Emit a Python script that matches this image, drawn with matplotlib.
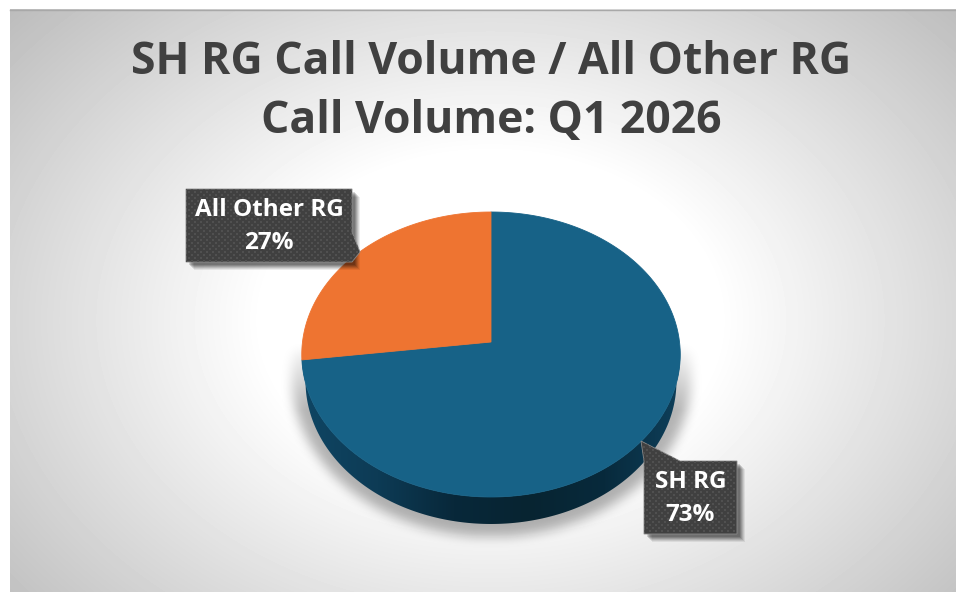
import numpy as np
import matplotlib
matplotlib.use("Agg")
import matplotlib.pyplot as plt
from matplotlib.patches import Polygon, Rectangle
from matplotlib.colors import LinearSegmentedColormap

# chart data
categories = ["SH RG", "All Other RG"]
shares = [73, 27]
slice_colors = ["#176287", "#EE7431"]
title_lines = ["SH RG Call Volume / All Other RG", "Call Volume: Q1 2026"]

W, H = 956, 592
plt.rcParams['font.family'] = ['Open Sans', 'DejaVu Sans']

fig = plt.figure(figsize=(W / 100, H / 100), dpi=100)
ax = fig.add_axes([0, 0, 1, 1])
ax.set_xlim(0, W)
ax.set_ylim(H, 0)
ax.axis('off')

yy, xx = np.mgrid[0:H, 0:W]

# radial background
r = np.hypot((xx - 490) / 600, (yy - 320) / 440)
grey = np.clip(255 - 68 * np.clip((r - 0.38) / 0.7, 0, 1.05), 0, 255) / 255
bg = ax.imshow(grey, cmap='gray', vmin=0, vmax=1, extent=(0, W, H, 0), aspect='auto', zorder=0)
bg.set_clip_path(Rectangle((10, 9), W, H, transform=ax.transData))
ax.plot([10, W], [9.5, 9.5], color="#a8a8a8", lw=1, zorder=1)

# pie geometry, slight perspective
cx, apex_y = 491, 342
A, B, k = 188.5, 141.4, 0.0877
depth = 27


def project(theta):
    # theta is clockwise from the top
    x, y = np.sin(theta), np.cos(theta)
    s = 1 / (1 + k * y)
    return cx + A * x * s, apex_y - B * y * s


# shadow under the pie
mask = np.zeros((H, W))
ny = (yy - 376) / 160
nx = (xx - 491) / 200
mask[(nx ** 2 + ny ** 2 <= 1) & (yy > 345)] = 1
for i in range(3):
    kernel = np.ones(11) / 11
    mask = np.apply_along_axis(lambda m: np.convolve(m, kernel, mode='same'), 0, mask)
    mask = np.apply_along_axis(lambda m: np.convolve(m, kernel, mode='same'), 1, mask)
mask = mask * np.clip((yy - 340) / 70, 0, 1)
shadow = np.zeros((H, W, 4))
shadow[..., 3] = mask * 0.30
ax.imshow(shadow, extent=(0, W, H, 0), aspect='auto', zorder=2)

# side of the pie, lower rim a little narrower
arc = np.linspace(np.pi / 2 + 0.02, 3 * np.pi / 2 - 0.02, 200)
arc_x, arc_y = project(arc)
low_x = cx + (arc_x - cx) * 0.98
side_xy = np.vstack([np.c_[arc_x, arc_y], np.c_[low_x[::-1], arc_y[::-1] + depth]])
side_cmap = LinearSegmentedColormap.from_list(
    "side", ["#0F4563", "#0D3B55", "#08283A", "#072431", "#082A3C", "#0E3F5A"])
side_grad = np.linspace(0, 1, 380).reshape(1, -1)
side = ax.imshow(side_grad, cmap=side_cmap, extent=(302, 681, H, 300), aspect='auto', zorder=3)
side.set_clip_path(Polygon(side_xy, transform=ax.transData))

# top faces
start = 0.0
for share, color in zip(shares, slice_colors):
    sweep = 2 * np.pi * share / sum(shares)
    th = np.linspace(start, start + sweep, 300)
    px, py = project(th)
    ax.fill(np.r_[cx, px], np.r_[apex_y, py], color=color, lw=0.6, zorder=4)
    start += sweep


def callout(x0, y0, x1, y1, pointer, text, tsize=17.5):
    if pointer[0] > x1:
        outline = np.array([(x0, y0), (x1, y0), (x1, y1 - 30), pointer, (x1, y1), (x0, y1)])
    else:
        outline = np.array([(x0, y0), pointer, (x0 + 36, y0), (x1, y0), (x1, y1), (x0, y1)])
    # soft drop shadow
    for off, a in [(8, 0.07), (7, 0.09), (6, 0.11), (5, 0.13), (4, 0.15), (3, 0.15)]:
        ax.add_patch(Rectangle((x0 + off, y0 + off), x1 - x0, y1 - y0, fc='black', ec='none',
                               alpha=a, zorder=5))
    box = Polygon(outline, closed=True, fc="#404040", ec="#8a8a8a", lw=0.6, zorder=6)
    ax.add_patch(box)
    # dotted texture
    dots_x, dots_y = [], []
    for row, y in enumerate(np.arange(min(y0, pointer[1]), y1, 3)):
        for x in np.arange(x0 + (row % 2) * 3, max(x1, pointer[0]), 6):
            dots_x.append(x)
            dots_y.append(y)
    d = ax.scatter(dots_x, dots_y, s=1.6, marker='s', color="#505050", lw=0, zorder=7)
    d.set_clip_path(box)
    ax.text((x0 + x1) / 2, (y0 + y1) / 2 + 1, text, color='white', fontsize=tsize, fontweight='bold',
            ha='center', va='center', linespacing=1.55, zorder=8)


callout(186, 189, 352, 262, (360, 252), "%s\n%d%%" % (categories[1], shares[1]))
callout(644, 461, 737, 534, (641, 441), "%s\n%d%%" % (categories[0], shares[0]))

# title
ax.text(491, 63, title_lines[0], fontsize=32, fontweight='bold', color="#404040",
        ha='center', va='center')
ax.text(491, 122, title_lines[1], fontsize=32, fontweight='bold', color="#404040",
        ha='center', va='center')

fig.savefig("out.png", dpi=100)
